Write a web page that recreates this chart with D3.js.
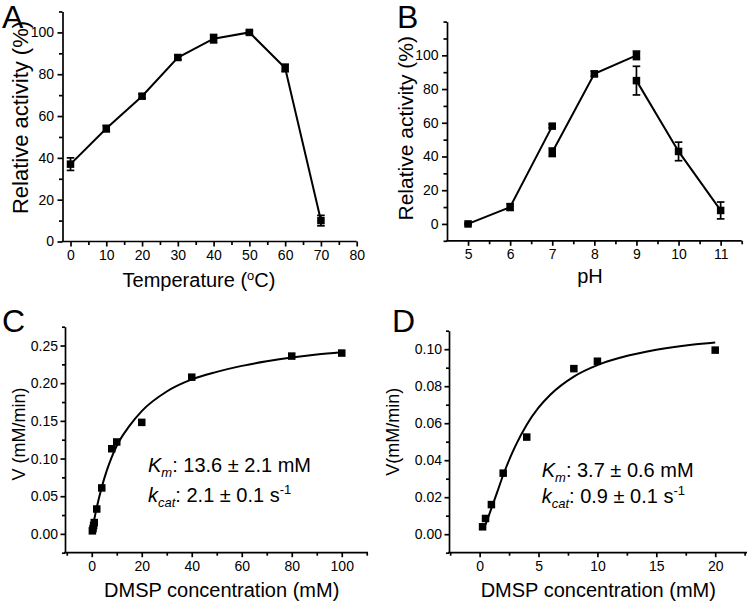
<!DOCTYPE html>
<html><head><meta charset="utf-8">
<script src="https://cdn.jsdelivr.net/npm/d3@7"></script>
<style>
body{margin:0;background:#fff}
svg text{font-family:"Liberation Sans",Arial,Helvetica,sans-serif;fill:#000}
</style>
</head><body>
<svg id="chart" width="750" height="603"></svg>
<script>
// ---------- Panel A : temperature ----------
const tempX   = [0, 10, 20, 30, 40, 50, 60, 70];
const tempY   = [37, 54, 69.5, 88, 97, 100, 83, 10];
const tempErr = [3, 1.5, 1, 1, 2, 0.8, 1.8, 2.5];
const aXTicks = [0, 10, 20, 30, 40, 50, 60, 70, 80];
const aYTicks = [0, 20, 40, 60, 80, 100];

// ---------- Panel B : pH (three buffers) ----------
const ph1X = [5, 6, 7],  ph1Y = [0, 10, 58],     ph1E = [0.5, 2, 1];
const ph2X = [7, 8, 9],  ph2Y = [42.5, 89, 100], ph2E = [2.5, 1.5, 2.5];
const ph3X = [9, 10, 11], ph3Y = [85, 43, 8],    ph3E = [8.5, 5.5, 5];
const bXTicks = [5, 6, 7, 8, 9, 10, 11];
const bYTicks = [0, 20, 40, 60, 80, 100];

// ---------- Panel C : kinetics ----------
const cS = [0.25, 0.5, 0.75, 1, 2, 4, 8, 10, 20, 40, 80, 100];
const cV = [0.004, 0.007, 0.011, 0.015, 0.033, 0.061, 0.113, 0.122, 0.148, 0.208, 0.236, 0.240];
const cFitS = [0.3, 1, 2, 4, 6, 8, 10, 15, 20, 30, 40, 50, 60, 70, 80, 90, 100];
const cFitV = [0.006, 0.019, 0.035, 0.062, 0.084, 0.102, 0.117, 0.143, 0.163, 0.189, 0.205, 0.215, 0.223, 0.229, 0.234, 0.238, 0.241];
const cXTicks = [0, 20, 40, 60, 80, 100];
const cYTicks = [0, 0.05, 0.10, 0.15, 0.20, 0.25];

// ---------- Panel D : kinetics ----------
const dS = [0.25, 0.5, 1, 2, 4, 8, 10, 20];
const dV = [0.004, 0.0085, 0.016, 0.033, 0.0525, 0.0895, 0.0935, 0.0995];
const dFitS = [0.3, 0.5, 1, 1.5, 2, 3, 4, 5, 6, 8, 10, 12, 15, 18, 20];
const dFitV = [0.0025, 0.0053, 0.014, 0.0229, 0.032, 0.0472, 0.0592, 0.0684, 0.0754, 0.0852, 0.0914, 0.0955, 0.0997, 0.1024, 0.1036];
const dXTicks = [0, 5, 10, 15, 20];
const dYTicks = [0, 0.02, 0.04, 0.06, 0.08, 0.10];

const svg = d3.select("#chart");

function axes(x, y, xMaj, xMin, yMaj, yMin, xFmt, yFmt, tl, ypad, xpad) {
  const y0 = y.range()[0], x0 = x.range()[0];
  const gx = svg.append("g").attr("transform", `translate(0,${y0})`);
  gx.call(d3.axisBottom(x).tickValues(xMaj).tickSize(tl).tickSizeOuter(0).tickPadding(xpad).tickFormat(xFmt));
  const gx2 = svg.append("g").attr("transform", `translate(0,${y0})`);
  gx2.call(d3.axisBottom(x).tickValues(xMin).tickSize(tl - 1.5).tickFormat(""));
  gx2.select(".domain").remove();
  const gy = svg.append("g").attr("transform", `translate(${x0},0)`);
  gy.call(d3.axisLeft(y).tickValues(yMaj).tickSize(tl).tickSizeOuter(0).tickPadding(ypad).tickFormat(yFmt));
  const gy2 = svg.append("g").attr("transform", `translate(${x0},0)`);
  gy2.call(d3.axisLeft(y).tickValues(yMin).tickSize(tl - 1.5).tickFormat(""));
  gy2.select(".domain").remove();
  [gx, gx2, gy, gy2].forEach(g => {
    g.selectAll("path,line").attr("stroke", "#000").attr("stroke-width", 1.7);
    g.selectAll("text").attr("font-size", 14).attr("font-family", '"Liberation Sans",Arial,sans-serif');
  });
  gx.select(".domain").attr("d", `M${x0 - 0.85},0H${x.range()[1]}`);
}

function series(x, y, xs, ys, es, withLine) {
  const pts = xs.map((d, i) => [d, ys[i], es ? es[i] : 0]);
  if (withLine) {
    svg.append("path").datum(pts)
      .attr("d", d3.line().x(d => x(d[0])).y(d => y(d[1])))
      .attr("fill", "none").attr("stroke", "#000").attr("stroke-width", 2);
  }
  if (es) {
    const g = svg.append("g").attr("stroke", "#000").attr("stroke-width", 1.7);
    pts.forEach(d => {
      if (d[2] <= 0) return;
      const cx = x(d[0]), yt = y(d[1] + d[2]), yb = y(d[1] - d[2]);
      g.append("line").attr("x1", cx).attr("x2", cx).attr("y1", yt).attr("y2", yb);
      g.append("line").attr("x1", cx - 3.8).attr("x2", cx + 3.8).attr("y1", yt).attr("y2", yt);
      g.append("line").attr("x1", cx - 3.8).attr("x2", cx + 3.8).attr("y1", yb).attr("y2", yb);
    });
  }
  svg.append("g").selectAll("rect").data(pts).join("rect")
    .attr("x", d => x(d[0]) - 3.75).attr("y", d => y(d[1]) - 3.75)
    .attr("width", 7.5).attr("height", 7.5).attr("fill", "#000");
}

function curve(x, y, xs, ys) {
  const pts = xs.map((d, i) => [d, ys[i]]);
  svg.append("path").datum(pts)
    .attr("d", d3.line().x(d => x(d[0])).y(d => y(d[1])).curve(d3.curveMonotoneX))
    .attr("fill", "none").attr("stroke", "#000").attr("stroke-width", 2);
}

function label(txt, x, y, size) {
  svg.append("text").attr("x", x).attr("y", y).attr("font-size", size).text(txt);
}
function ytitle(txt, x, y, size) {
  svg.append("text").attr("transform", `translate(${x},${y}) rotate(-90)`)
    .attr("text-anchor", "middle").attr("font-size", size).text(txt);
}

const fmt0 = d3.format("d"), fmt2 = d3.format(".2f");

// ---- A ----
const ax = d3.scaleLinear().domain([-2.24, 80]).range([62.5, 356.7]);
const ay = d3.scaleLinear().domain([0, 110]).range([241.5, 11.5]);
axes(ax, ay, aXTicks, d3.range(5, 80, 10), aYTicks, [10, 30, 50, 70, 90, 110], fmt0, fmt0, 5, 3.5, 3.5);
series(ax, ay, tempX, tempY, tempErr, true);
label("A", 2, 28, 32);
ytitle("Relative activity (%)", 28, 117.5, 22);
const tA = svg.append("text").attr("x", 199).attr("y", 287).attr("text-anchor", "middle").attr("font-size", 20);
tA.append("tspan").text("Temperature (");
tA.append("tspan").attr("dy", -7).attr("font-size", 13).text("o");
tA.append("tspan").attr("dy", 7).text("C)");

// ---- B ----
const bx = d3.scaleLinear().domain([4.5, 11.5]).range([447, 741.7]);
const by = d3.scaleLinear().domain([-10, 120]).range([240.8, 21.6]);
axes(bx, by, bXTicks, [5.5, 6.5, 7.5, 8.5, 9.5, 10.5, 11.5], bYTicks, [-10, 10, 30, 50, 70, 90, 110, 120], fmt0, fmt0, 5, 3.5, 3.5);
series(bx, by, ph1X, ph1Y, ph1E, true);
series(bx, by, ph2X, ph2Y, ph2E, true);
series(bx, by, ph3X, ph3Y, ph3E, true);
label("B", 397, 28, 32);
ytitle("Relative activity (%)", 413, 128.3, 21);
svg.append("text").attr("x", 590).attr("y", 283).attr("text-anchor", "middle").attr("font-size", 20).text("pH");

// ---- C ----
const cx = d3.scaleLinear().domain([-10.7, 110.5]).range([65, 368]);
const cy = d3.scaleLinear().domain([-0.025, 0.275]).range([552.7, 326.7]);
axes(cx, cy, cXTicks, [-10, 10, 30, 50, 70, 90, 110], cYTicks, [-0.025, 0.025, 0.075, 0.125, 0.175, 0.225, 0.275], fmt0, fmt2, 4.5, 2.5, 3.5);
curve(cx, cy, cFitS, cFitV);
series(cx, cy, cS, cV, null, false);
label("C", 2, 332, 32);
ytitle("V (mM/min)", 25, 434, 18);
svg.append("text").attr("x", 221.7).attr("y", 596.7).attr("text-anchor", "middle").attr("font-size", 20).text("DMSP concentration (mM)");

// ---- D ----
const dx = d3.scaleLinear().domain([-2.6, 22.7]).range([449, 747]);
const dy = d3.scaleLinear().domain([-0.01, 0.11]).range([552.7, 330.7]);
axes(dx, dy, dXTicks, [-2.5, 2.5, 7.5, 12.5, 17.5, 22.5], dYTicks, [-0.01, 0.01, 0.03, 0.05, 0.07, 0.09, 0.11], fmt0, fmt2, 4.5, 2.5, 3.5);
curve(dx, dy, dFitS, dFitV);
series(dx, dy, dS, dV, null, false);
label("D", 392, 332, 32);
ytitle("V(mM/min)", 399, 431.7, 18);
svg.append("text").attr("x", 598.3).attr("y", 596.7).attr("text-anchor", "middle").attr("font-size", 20).text("DMSP concentration (mM)");

// ---- kinetic annotations ----
function kin(x, y1, y2, km, kcat) {
  const t1 = svg.append("text").attr("x", x).attr("y", y1).attr("font-size", 20);
  t1.append("tspan").attr("font-style", "italic").text("K");
  t1.append("tspan").attr("font-style", "italic").attr("font-size", 13).attr("dy", 5).text("m");
  t1.append("tspan").attr("dy", -5).text(": " + km);
  const t2 = svg.append("text").attr("x", x).attr("y", y2).attr("font-size", 20);
  t2.append("tspan").attr("font-style", "italic").text("k");
  t2.append("tspan").attr("font-style", "italic").attr("font-size", 13).attr("dy", 5).text("cat");
  t2.append("tspan").attr("dy", -5).text(": " + kcat + " s");
  t2.append("tspan").attr("font-size", 13).attr("dy", -8).text("-1");
}
kin(148, 471.7, 501.7, "13.6 \u00b1 2.1 mM", "2.1 \u00b1 0.1");
kin(541.7, 476.7, 503.3, "3.7 \u00b1 0.6 mM", "0.9 \u00b1 0.1");
</script>
</body></html>
